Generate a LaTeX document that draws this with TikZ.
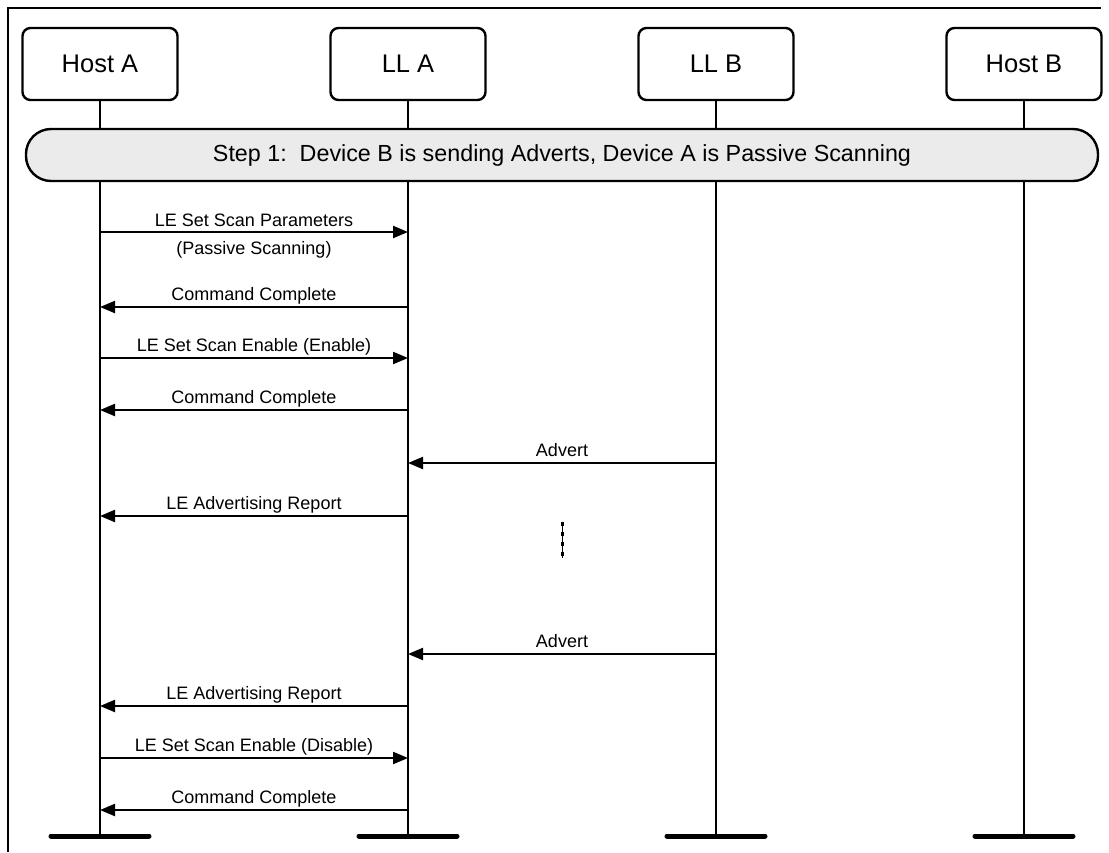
\documentclass[tikz,border=0pt]{standalone}
\usepackage{fontspec}
\setmainfont{Liberation Sans}
\usepackage{tikz}
\usetikzlibrary{arrows.meta}
\definecolor{banner}{HTML}{EBEBEB}

\tikzset{
  actor/.style={draw, line width=2.4pt, rounded corners=8pt, minimum width=155pt, minimum height=72pt, inner sep=0pt, font=\fontsize{25.5}{30}\selectfont},
  stepbar/.style={draw, fill=banner, line width=2.4pt, rounded corners=25pt, minimum width=1072pt, minimum height=52pt, inner sep=0pt, font=\fontsize{23.3}{28}\selectfont},
  life/.style={line width=2.6pt},
  foot/.style={line width=5pt, line cap=round},
  msg/.style={line width=2.2pt, -{Triangle[length=15pt,width=12pt]}},
  lbl/.style={font=\fontsize{18}{21}\selectfont, inner sep=0pt, anchor=base},
}

\begin{document}
\begin{tikzpicture}[x=1pt,y=-1pt]
  \useasboundingbox (0,0) rectangle (1109,852);
  % frame, top and left edge only
  \draw[line width=2.4pt] (8,852) -- (8,8) -- (1101,8);

  % participants
  \node[actor] (hostA) at (100,64) {Host A};
  \node[actor] (llA) at (408,64) {LL A};
  \node[actor] (llB) at (716,64) {LL B};
  \node[actor] (hostB) at (1024,64) {Host B};

  % lifelines with feet
  \coordinate (bottom) at (0,836);
  \foreach \p in {hostA,llA,llB,hostB} {
    \coordinate (\p end) at (\p |- bottom);
    \draw[life] (\p) -- (\p end);
    \draw[foot] ([xshift=-49pt]\p end) -- ([xshift=49pt]\p end);
  }

  % step banner
  \node[stepbar] (step) at (562,155) {Step 1:~~Device B is sending Adverts, Device A is Passive Scanning};

  % messages
  \coordinate (r232) at (0,232);
  \draw[msg] (hostA |- r232) -- (llA |- r232)
    node[lbl, midway, yshift=6pt] {LE Set Scan Parameters}
    node[lbl, midway, yshift=-22pt] {(Passive Scanning)};
  \foreach \y/\src/\dst/\txt in {
      307/llA/hostA/Command Complete,
      358/hostA/llA/LE Set Scan Enable (Enable),
      410/llA/hostA/Command Complete,
      463/llB/llA/Advert,
      516/llA/hostA/LE Advertising Report,
      654/llB/llA/Advert,
      706/llA/hostA/LE Advertising Report,
      758/hostA/llA/LE Set Scan Enable (Disable),
      810/llA/hostA/Command Complete} {
    \coordinate (r\y) at (0,\y);
    \draw[msg] (\src |- r\y) -- (\dst |- r\y)
      node[lbl, midway, yshift=7pt] {\txt};
  }

  % time gap marker
  \coordinate (gapTop) at (562,522);
  \coordinate (gapBot) at (562,558);
  \draw[line width=1pt] (gapTop) -- (gapBot);
  \draw[line width=3pt, dash pattern=on 4pt off 6pt] (gapTop) -- (gapBot);
\end{tikzpicture}
\end{document}
